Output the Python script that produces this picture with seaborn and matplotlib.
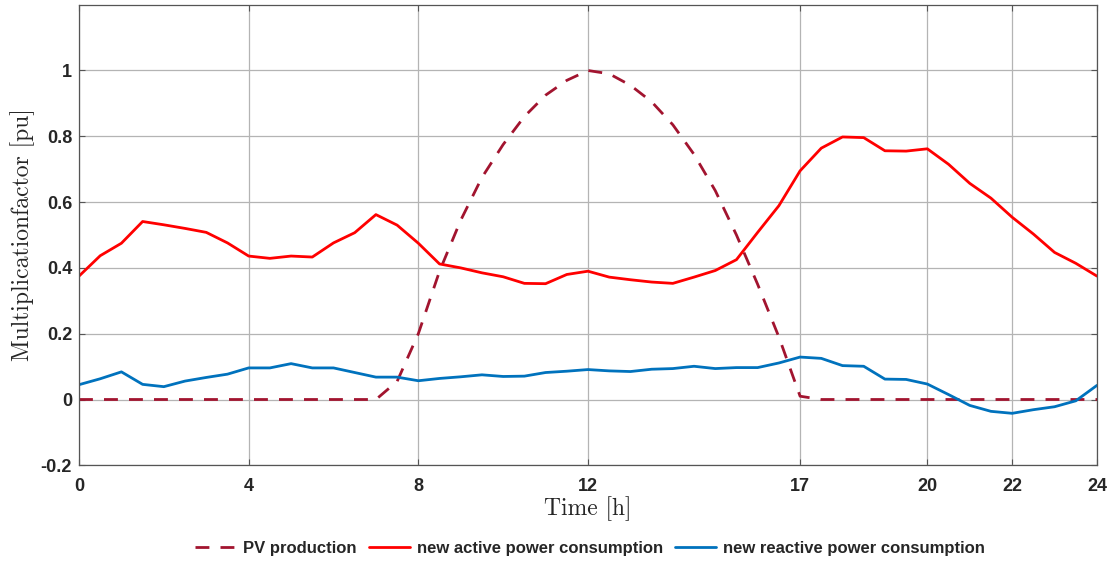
import matplotlib
matplotlib.use("Agg")
import matplotlib.pyplot as plt
import seaborn as sns
import pandas as pd

# ---- data ----
time_h = [i * 0.5 for i in range(49)]

pv_production = [0, 0, 0, 0, 0, 0, 0, 0, 0, 0, 0, 0, 0, 0, 0,
                 0.055, 0.20, 0.39, 0.545, 0.675, 0.775, 0.86, 0.925, 0.97, 1.0,
                 0.99, 0.955, 0.905, 0.835, 0.745, 0.635, 0.50, 0.35, 0.19, 0.01,
                 0, 0, 0, 0, 0, 0, 0, 0, 0, 0, 0, 0, 0, 0]

active_power = [0.375, 0.437, 0.475, 0.541, 0.531, 0.520, 0.508, 0.476, 0.436,
                0.429, 0.436, 0.433, 0.476, 0.507, 0.562, 0.530, 0.475,
                0.412, 0.400, 0.385, 0.373, 0.353, 0.352, 0.380, 0.390,
                0.372, 0.364, 0.357, 0.353, 0.372, 0.392, 0.425, 0.508,
                0.589, 0.695, 0.764, 0.798, 0.796, 0.756, 0.755, 0.762,
                0.715, 0.657, 0.612, 0.554, 0.503, 0.447, 0.414, 0.375]

reactive_power = [0.045, 0.063, 0.084, 0.046, 0.039, 0.056, 0.067, 0.077, 0.096,
                  0.096, 0.109, 0.096, 0.096, 0.082, 0.068, 0.068, 0.057,
                  0.064, 0.069, 0.075, 0.070, 0.071, 0.082, 0.086, 0.091,
                  0.087, 0.085, 0.092, 0.094, 0.101, 0.094, 0.097, 0.097,
                  0.111, 0.129, 0.125, 0.103, 0.101, 0.062, 0.061, 0.047,
                  0.015, -0.018, -0.036, -0.042, -0.031, -0.022, -0.004, 0.043]

series_labels = ["PV production", "new active power consumption",
                 "new reactive power consumption"]
x_ticks = [0, 4, 8, 12, 17, 20, 22, 24]
y_ticks = [-0.2, 0, 0.2, 0.4, 0.6, 0.8, 1.0]
y_tick_labels = ["-0.2", "0", "0.2", "0.4", "0.6", "0.8", "1"]

df = pd.DataFrame({"t": time_h, "pv": pv_production,
                   "p": active_power, "q": reactive_power})

sns.set_style("white")
plt.rcParams["font.family"] = ["Liberation Sans", "DejaVu Sans"]

fig = plt.figure(figsize=(11.17, 5.62), dpi=100)
ax = fig.add_axes([79 / 1117, 1 - 465.3 / 562, (1097 - 79) / 1117, (465.3 - 4.7) / 562])

sns.lineplot(data=df, x="t", y="pv", ax=ax, color="#A2142F", linewidth=2.0,
             label=series_labels[0])
ax.lines[-1].set_linestyle((0, (5, 4)))
sns.lineplot(data=df, x="t", y="p", ax=ax, color="#FF0000", linewidth=2.0,
             label=series_labels[1])
sns.lineplot(data=df, x="t", y="q", ax=ax, color="#0072BD", linewidth=2.0,
             label=series_labels[2])

ax.set_xlim(0, 24)
ax.set_ylim(-0.2, 1.2)
ax.set_xticks(x_ticks)
ax.set_xticklabels([str(v) for v in x_ticks])
ax.set_yticks(y_ticks)
ax.set_yticklabels(y_tick_labels)

ax.grid(True, color="#b4b4b4", linewidth=0.9)
ax.set_axisbelow(True)
for s in ax.spines.values():
    s.set_visible(True)
    s.set_color("#555555")
    s.set_linewidth(0.9)

ax.tick_params(axis="both", direction="in", length=4, width=0.8, color="#555555",
               labelsize=13, labelcolor="#262626", top=True, right=True,
               bottom=True, left=True)
ax.tick_params(axis="x", pad=9)
ax.tick_params(axis="y", pad=5)
for lbl in ax.get_xticklabels() + ax.get_yticklabels():
    lbl.set_fontweight("bold")

ax.set_xlabel("Time [h]", fontname="cmr10", fontsize=17, color="#262626", labelpad=1)
ax.set_ylabel("Multiplicationfactor [pu]", fontname="cmr10", fontsize=17,
              color="#262626", labelpad=4)

leg = ax.legend(loc="center", bbox_to_anchor=(0.502, -0.181), ncol=3, frameon=False,
                handlelength=2.5, columnspacing=0.7, handletextpad=0.4,
                prop={"weight": "bold", "size": 12})
for t in leg.get_texts():
    t.set_color("#262626")

fig.savefig("out.png", dpi=100)
